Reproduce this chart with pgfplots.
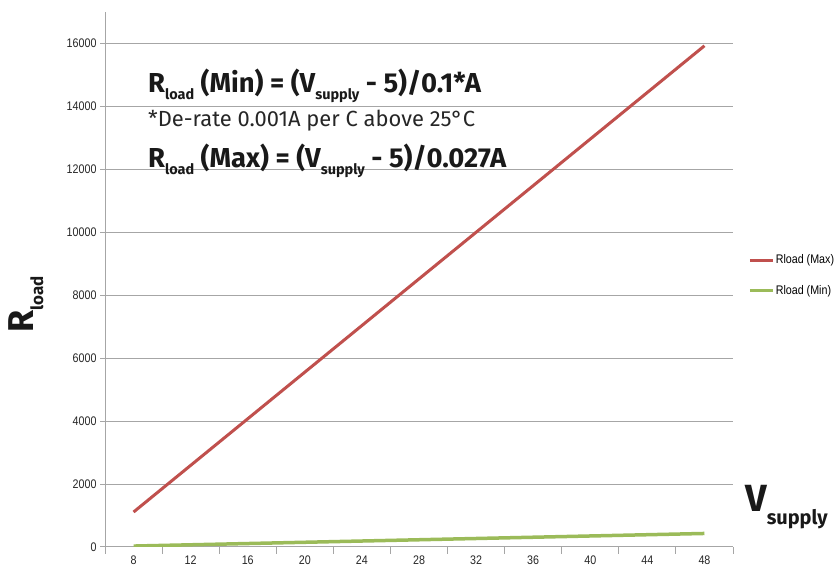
\documentclass[border=0pt]{standalone}
\usepackage{pgfplots}
\pgfplotsset{compat=1.18}
\usepackage{fontspec}
\setmainfont{Fira Sans}
\newfontfamily\narrow[FakeStretch=0.86]{Liberation Sans}
\definecolor{maxred}{HTML}{C0504D}
\definecolor{mingreen}{HTML}{9BBB59}
\definecolor{axisgray}{HTML}{A6A6A6}
\newcommand\sub[2]{\raisebox{-#2bp}{\fontsize{#1}{#1}\selectfont load}}
\newcommand\subs[2]{\raisebox{-#2bp}{\fontsize{#1}{#1}\selectfont supply}}

\begin{document}
\begin{tikzpicture}[x=1bp,y=1bp]
\useasboundingbox (0,0) rectangle (835,576);
\begin{axis}[
  at={(105bp,29bp)}, anchor=south west,
  scale only axis, width=628bp, height=535bp,
  xmin=6, xmax=50, ymin=0, ymax=17000,
  axis lines=left,
  axis line style={-, draw=axisgray, line width=1bp},
  xtick={8,12,...,48},
  minor xtick={6,10,...,50},
  ytick={0,2000,...,16000},
  ymajorgrids,
  grid style={draw=axisgray, line width=1bp},
  tick align=outside,
  major x tick style={draw=none},
  minor x tick style={draw=axisgray, line width=1bp},
  major y tick style={draw=axisgray, line width=1bp},
  major tick length=5bp,
  minor tick length=7bp,
  scaled y ticks=false,
  /pgf/number format/1000 sep={},
  /pgf/number format/assume math mode=true,
  tick label style={font=\narrow\fontsize{12.5}{12.5}\selectfont, text=black!85},
  legend style={at={(1.024,0.5075)}, anchor=west, draw=none, fill=none,
    font=\narrow\fontsize{12.5}{12.5}\selectfont, row sep=17bp, inner sep=0pt,
    nodes={inner sep=1.5bp}},
  legend cell align=left,
  legend image code/.code={\draw[#1, line width=3bp] (0bp,0bp) -- (23bp,0bp);},
]
\addplot[maxred, line width=3bp] table {
  8 1111
  12 2593
  16 4074
  20 5556
  24 7037
  28 8519
  32 10000
  36 11481
  40 12963
  44 14444
  48 15926
};
\addlegendentry{Rload (Max)}
\addplot[mingreen, line width=3.5bp] table {
  8 30
  12 70
  16 110
  20 150
  24 190
  28 230
  32 270
  36 310
  40 350
  44 390
  48 430
};
\addlegendentry{Rload (Min)}
\end{axis}
\node[anchor=base west, inner sep=0, font=\bfseries\fontsize{27.5}{27.5}\selectfont, text=black!90]
  at (148,483) {R\sub{14.5}{7} (Min) = (V\subs{14.5}{7} - 5)/0.1*A};
\node[anchor=base west, inner sep=0, font=\fontsize{22}{22}\selectfont, text=black!85]
  at (148,449) {*De-rate 0.001A per C above 25°C};
\node[anchor=base west, inner sep=0, font=\bfseries\fontsize{27.5}{27.5}\selectfont, text=black!90]
  at (148,408) {R\sub{14.5}{7} (Max) = (V\subs{14.5}{7} - 5)/0.027A};
\node[anchor=base west, inner sep=0, rotate=90, font=\bfseries\fontsize{36}{36}\selectfont, text=black!90]
  at (33,243) {R\sub{17}{10}};
\node[anchor=base west, inner sep=0, font=\bfseries\fontsize{38}{38}\selectfont, text=black!90]
  at (745,64) {V\subs{20}{13}};
\end{tikzpicture}
\end{document}
